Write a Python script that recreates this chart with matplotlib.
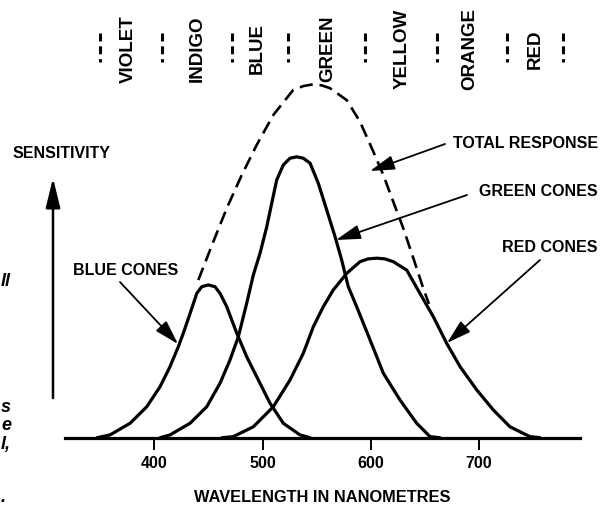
import matplotlib
matplotlib.use("Agg")
import matplotlib.pyplot as plt
from matplotlib.lines import Line2D

# ---------------- data ----------------
blue_nm = [347.1, 359.1, 377.6, 393.0, 405.3, 414.5, 422.2, 426.8, 433.0, 439.2, 443.8,
           449.9, 456.0, 460.7, 466.9, 476.1, 485.3, 494.6, 506.8, 519.1, 534.5, 543.8]
blue_s = [0, 0.8, 4.1, 8.8, 14.5, 20.2, 25.9, 29.7, 35.3, 41.0, 42.9,
          43.4, 42.9, 41.0, 37.2, 29.7, 23.0, 17.3, 9.8, 4.1, 0.8, 0]

green_nm = [405.3, 414.5, 433.0, 448.4, 460.7, 469.9, 477.6, 485.3, 491.4, 497.6, 503.8,
            508.4, 513.0, 519.1, 525.3, 531.5, 537.6, 543.8, 551.4, 559.2, 566.9,
            573.0, 579.1, 586.9, 599.2, 611.5, 626.9, 642.3, 654.6, 663.8]
green_s = [0, 0.8, 4.1, 8.8, 15.5, 22.1, 28.7, 38.2, 46.2, 52.4, 59.9,
           66.6, 73.2, 77.5, 79.4, 79.8, 79.4, 78.0, 72.3, 64.7, 57.1,
           50.5, 42.9, 37.2, 27.8, 18.3, 10.7, 4.1, 0.3, 0]

red_nm = [462.5, 472.9, 491.4, 509.9, 525.3, 537.6, 546.8, 556.0, 565.3, 577.7, 589.9,
          597.3, 605.4, 613.0, 620.7, 633.1, 645.3, 657.6, 670.0, 682.3, 697.7,
          713.0, 728.4, 746.9, 756.1]
red_s = [0, 0.3, 3.1, 8.8, 16.4, 24.0, 31.5, 37.2, 42.0, 46.7, 50.0,
         50.8, 51.0, 50.8, 50.0, 47.6, 41.0, 34.4, 26.8, 20.2, 13.6,
         7.9, 3.1, 0.3, 0]

total_nm = [440.6, 454.5, 466.9, 480.7, 494.6, 509.9, 528.3, 537.6, 546.8, 554.6,
            562.2, 577.7, 589.9, 602.2, 611.5, 620.7, 629.9, 639.2, 648.4, 653.6]
total_s = [44.8, 55.7, 65.2, 74.6, 83.2, 91.7, 98.8, 99.9, 100.4, 100.1,
           99.3, 95.9, 89.8, 81.3, 74.6, 67.0, 59.5, 51.0, 42.4, 38.0]

tick_values = [400, 500, 600, 700]
tick_labels = ["400", "500", "600", "700"]
colour_names = ["VIOLET", "INDIGO", "BLUE", "GREEN", "YELLOW", "ORANGE", "RED"]

# ---------------- layout ----------------
W, H = 607, 507
FONT = "Liberation Sans"
plt.rcParams["font.family"] = [FONT, "DejaVu Sans"]

fig = plt.figure(figsize=(W / 100, H / 100), dpi=100)
fig.patch.set_facecolor("white")


def fp(x, y):
    """pixel (from top-left) -> figure fraction"""
    return x / W, 1 - y / H


base_y = 437.7
ax = fig.add_axes([65 / W, (H - base_y) / H, (580 - 65) / W, base_y / H])
ax.set_xlim(317.5, 793.1)
ax.set_ylim(0, 124.35)
ax.set_facecolor("none")
for s in ("left", "right", "top"):
    ax.spines[s].set_visible(False)
ax.spines["bottom"].set_linewidth(2.3)
ax.set_yticks([])
ax.set_xticks(tick_values)
ax.set_xticklabels(tick_labels, fontsize=11.5, fontweight="bold", family=FONT)
ax.tick_params(axis="x", direction="out", length=8.5, width=1.4, pad=4.5)

lw = 2.3
for xs, ys in ((blue_nm, blue_s), (green_nm, green_s), (red_nm, red_s)):
    ax.plot(xs, ys, color="black", lw=lw, solid_joinstyle="round",
            solid_capstyle="round", clip_on=False)
ax.plot(total_nm, total_s, color="black", lw=1.9, dashes=(5, 2.6), clip_on=False)

# ---------------- texts ----------------
bold = dict(fontweight="bold", family=FONT, color="black")
fig.text(*fp(322, 498), "WAVELENGTH IN NANOMETRES", ha="center", va="center",
         fontsize=11.8, **bold)
fig.text(*fp(13, 153), "SENSITIVITY", ha="left", va="center", fontsize=11.5, **bold)
fig.text(*fp(598, 143), "TOTAL RESPONSE", ha="right", va="center", fontsize=11.5, **bold)
fig.text(*fp(598, 191.5), "GREEN CONES", ha="right", va="center", fontsize=11.5, **bold)
fig.text(*fp(598, 247.5), "RED CONES", ha="right", va="center", fontsize=11.5, **bold)
fig.text(*fp(73, 270.5), "BLUE CONES", ha="left", va="center", fontsize=11.5, **bold)

# colour band labels at the top
label_x = [128, 197, 257, 328, 402, 470, 535]
for name, x in zip(colour_names, label_x):
    fig.text(*fp(x, 49), name, rotation=90, ha="center", va="center",
             fontsize=13.5, **bold)
sep_x = [100, 162, 232, 288, 365, 437, 507, 563]
for x in sep_x:
    fig.add_artist(Line2D([x / W, x / W], [1 - 33 / H, 1 - 62 / H],
                          transform=fig.transFigure, color="black", lw=2.2,
                          dashes=(2.6, 1.6)))

# fragments of the neighbouring page text at the left edge
frag = dict(fontstyle="italic", fontweight="bold", family=FONT, fontsize=13,
            color="black", va="center", ha="left")
fig.text(*fp(1, 281), "ll", **frag)
fig.text(*fp(1, 407), "s", **frag)
fig.text(*fp(1, 426), "e", **frag)
fig.text(*fp(1, 445), "l,", **frag)
fig.text(*fp(1, 498), ".", **frag)

# ---------------- arrows ----------------
def arrow(tail, tip, lw=1.3, hl=0.75, hw=0.22):
    ax.annotate("", xy=fp(*tip), xycoords="figure fraction",
                xytext=fp(*tail), textcoords="figure fraction",
                arrowprops=dict(arrowstyle=f"-|>,head_length={hl},head_width={hw}",
                                color="black", lw=lw, shrinkA=0, shrinkB=0,
                                mutation_scale=20),
                annotation_clip=False)


arrow((53, 398), (53, 178), lw=1.8, hl=0.9, hw=0.22)
arrow((445, 144), (370, 171))
arrow((467, 195), (336, 240))
arrow((540, 260), (447, 343))
arrow((120, 282), (178, 344))

fig.savefig("out.png", dpi=100, facecolor="white")
